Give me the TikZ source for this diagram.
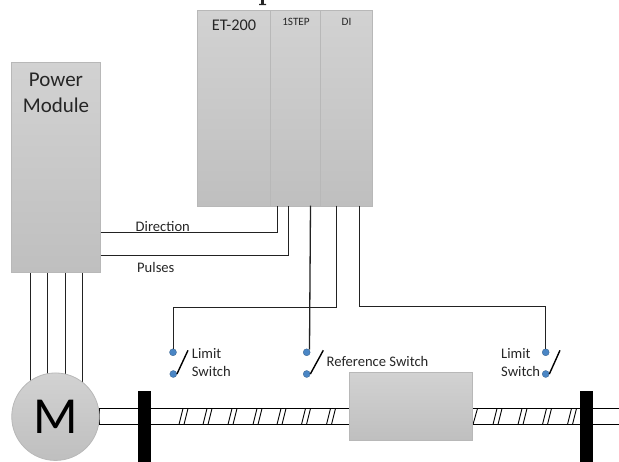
\documentclass[tikz,border=0pt]{standalone}
\usepackage{fontspec}
\setmainfont{Carlito}
\definecolor{gt}{HTML}{D2D2D2}
\definecolor{gb}{HTML}{BFBFBF}
\definecolor{ge}{HTML}{B8B8B8}
\definecolor{sw}{HTML}{4A86C5}
\definecolor{wire}{HTML}{222222}
\tikzset{
 x=1pt,y=-1pt,
 box/.style={draw=ge,line width=0.8pt,top color=gt,bottom color=gb,inner sep=0,anchor=north west},
 wirel/.style={wire,line width=1.3pt},
 rod/.style={black,line width=1.2pt},
 threadl/.style={black,line width=0.9pt},
 arm/.style={black,line width=1.4pt},
 stop/.style={fill=black,draw=none,minimum width=13.5pt,minimum height=71pt,inner sep=0,anchor=north west},
 dot/.style={circle,fill=sw,draw=sw!70!black,line width=0.3pt,minimum size=7pt,inner sep=0},
 lab/.style={font=\fontsize{14.6}{17.7}\selectfont,text=black!85,align=left,inner sep=0},
}
\begin{document}
\begin{tikzpicture}
\useasboundingbox (0,0) rectangle (619,462);
% clipped glyph fragment at the top edge
\fill[black!85] (261.2,0) rectangle (263.8,4) (259,4) rectangle (266,5.2);
% rods
\draw[rod] (619,408.5)--(99.5,408.5)--(99.5,424.5)--(619,424.5);
\foreach \tx in {183.5,207.5,232.5,257.5,281.5,306,331,497.5,522.5,547,572}{
 \draw[threadl] (\tx-4.5,424.5)--(\tx-0.5,408.5) (\tx+0.5,424.5)--(\tx+4.5,408.5);}
\draw[threadl] (473,424.5)--(477.5,408.5);
% power module and its wires, under the motor
\node[box,minimum width=88.5pt,minimum height=210pt] (pm) at (11.2,62) {};
\node[font=\fontsize{21}{26}\selectfont,align=center,text=black!85] (pmt) at (56,92.5) {Power\\Module};
\coordinate (m1) at (30.5,390); \coordinate (m2) at (47.5,390); \coordinate (m3) at (65.5,390); \coordinate (m4) at (82.5,390);
\draw[wirel] (m1 |- pm.south)--(m1) (m2 |- pm.south)--(m2) (m3 |- pm.south)--(m3) (m4 |- pm.south)--(m4);
% motor
\node[circle,draw=ge,line width=0.8pt,top color=gt,bottom color=gb,minimum size=87.5pt,inner sep=0,font=\fontsize{52}{52}\selectfont] (motor) at (55.5,416.7) {M};
% stops
\node[stop] (stopl) at (137.7,391.3) {};
\node[stop] (stopr) at (579.3,391.3) {};
% carriage
\node[box,minimum width=122.4pt,minimum height=68pt] (cart) at (349.3,372) {};
% ET200
\node[box,minimum width=73pt,minimum height=195.5pt] (et) at (197.4,10.2) {};
\node[box,minimum width=50pt,minimum height=195.5pt] (st) at (270.4,10.2) {};
\node[box,minimum width=51.4pt,minimum height=195.5pt] (di) at (320.4,10.2) {};
\node[font=\fontsize{16.3}{20}\selectfont,text=black!85] (ett) at (234,25) {ET-200};
\node[font=\fontsize{11.2}{14}\selectfont,text=black!85] (stt) at (296,21.7) {1STEP};
\node[font=\fontsize{11.2}{14}\selectfont,text=black!85] (dit) at (346.5,21.7) {DI};
% switch contacts
\node[dot] (s1a) at (173,352.3) {};
\node[dot] (s1b) at (173.3,374) {};
\node[dot] (s2a) at (306.7,352.3) {};
\node[dot] (s2b) at (306.7,374) {};
\node[dot] (s3a) at (545.7,352.3) {};
\node[dot] (s3b) at (545.7,374) {};
% signal wires
\draw[wirel] (pm.east |- 0,232.5)--(277.5,232.5)--(277.5,205.7);
\draw[wirel] (pm.east |- 0,255.5)--(288.5,255.5)--(288.5,205.7);
\draw[wirel] (310.5,205.7)--(309.5,349.5);
\draw[wirel] (336.5,205.7)--(336.5,307.5)--(173.5,307.5)--(173.5,349);
\draw[wirel] (359.5,205.7)--(359.5,306.5)--(545.5,306.5)--(545.5,349);
% switch arms
\coordinate (a1) at (188,350.3); \coordinate (a2) at (323.3,350.3); \coordinate (a3) at (560,350.3);
\draw[arm] (s1b.east)--(a1);
\draw[arm] (s2b.east)--(a2);
\draw[arm] (s3b.east)--(a3);
% labels
\node[lab,anchor=west] (ldir) at (135.5,226.5) {Direction};
\node[lab,anchor=west] (lpul) at (137,267.5) {Pulses};
\node[lab,anchor=west] (ll1) at (191.7,362.5) {Limit\\Switch};
\node[lab,anchor=west] (lref) at (326.5,361.5) {Reference Switch};
\node[lab,anchor=west] (ll2) at (501,362.5) {Limit\\Switch};
\end{tikzpicture}
\end{document}
